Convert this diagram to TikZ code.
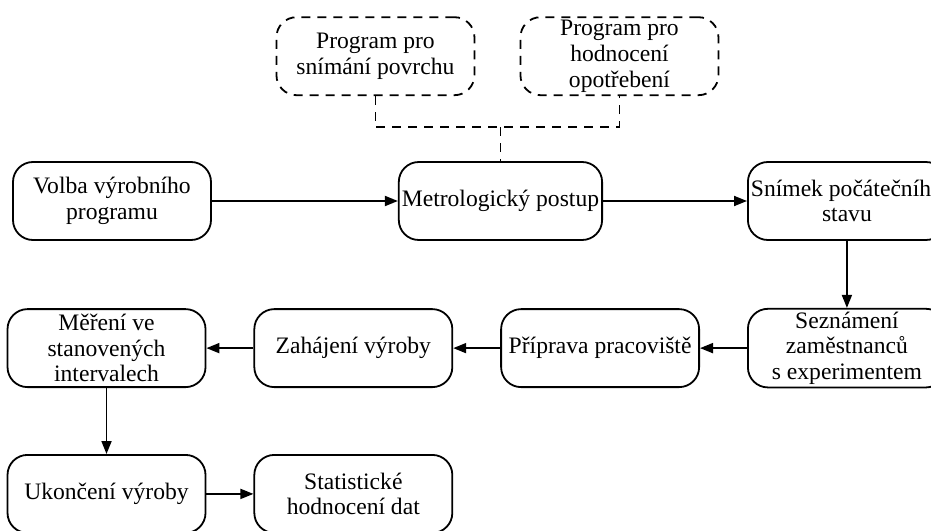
\documentclass[tikz,border=0pt]{standalone}
\usepackage{fontspec}
\setmainfont{Liberation Serif}
\usetikzlibrary{arrows.meta, positioning}

\begin{document}
\begin{tikzpicture}[
  node distance = 33.5pt and 23.5pt,
  every node/.style = {font=\fontsize{11.8}{12.8}\selectfont},
  stepbox/.style  = {rectangle, rounded corners=10pt, draw=black,
                     line width=0.9pt, fill=white, minimum width=99pt,
                     minimum height=39pt, inner sep=1.5pt, align=center},
  progbox/.style  = {stepbox, dash pattern=on 4.5pt off 3.5pt},
  arrow/.style    = {-{Triangle[length=6.5pt, width=5pt]}, line width=0.9pt},
  link/.style     = {line width=0.9pt, dash pattern=on 4.5pt off 3.5pt}
]
\useasboundingbox (-56pt,-164.5pt) rectangle (409.5pt,100.5pt);

% --- horni rada (zleva doprava) ---
\node[stepbox]                     (volba)  {Volba výrobního\\programu};
\node[stepbox, right=93pt of volba] (metro)  {Metrologický postup};
\node[stepbox, right=72pt of metro] (snimek) {Snímek počátečního\\stavu};

% --- programy nad metrologii ---
\node[progbox, above=32.5pt of metro, xshift=-62.5pt] (prog1)
     {Program pro\\snímání povrchu};
\node[progbox, above=32.5pt of metro, xshift=59.5pt]  (prog2)
     {Program pro\\hodnocení\\opotřebení};

% --- druha rada (zprava doleva) ---
\node[stepbox, below=of snimek]    (seznam)   {Seznámení\\zaměstnanců\\s experimentem};
\node[stepbox, left=of seznam]     (priprava) {Příprava pracoviště};
\node[stepbox, left=of priprava]   (zahajeni) {Zahájení výroby};
\node[stepbox, left=of zahajeni]   (mereni)   {Měření ve\\stanovených\\intervalech};

% --- treti rada ---
\node[stepbox, below=33pt of mereni] (ukonceni) {Ukončení výroby};
\node[stepbox, right=of ukonceni]    (stat)     {Statistické\\hodnocení dat};

% --- Arrows ---
\draw[arrow] (volba)    -- (metro);
\draw[arrow] (metro)    -- (snimek);
\draw[arrow] (snimek)   -- (seznam);
\draw[arrow] (seznam)   -- (priprava);
\draw[arrow] (priprava) -- (zahajeni);
\draw[arrow] (zahajeni) -- (mereni);
\draw[arrow] (mereni)   -- (ukonceni);
\draw[arrow] (ukonceni) -- (stat);

% programy -> metro (carkovane)
\coordinate[above=17pt of metro] (bus);
\draw[link] (prog1) |- (bus) -| (prog2);
\draw[link] (bus) -- (metro);

\end{tikzpicture}
\end{document}
